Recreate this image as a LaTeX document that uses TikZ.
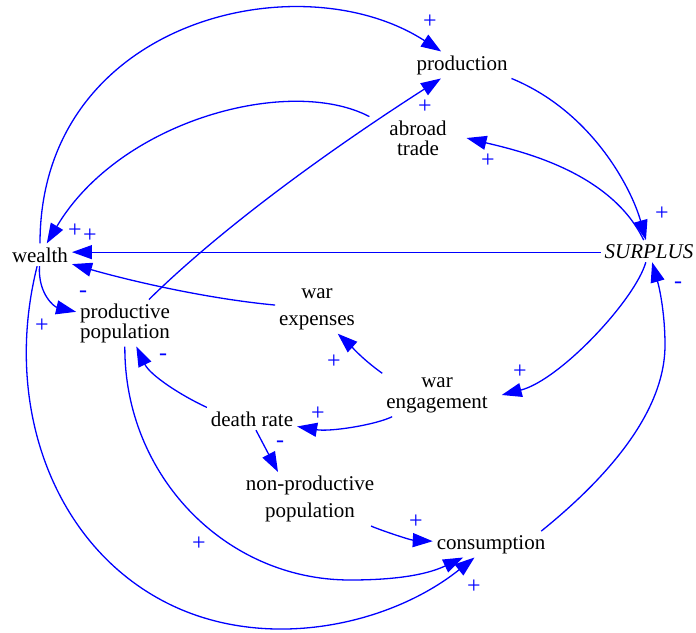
\documentclass[tikz,border=0pt]{standalone}
\usepackage{fontspec}
\setmainfont{Liberation Serif}
\usetikzlibrary{arrows.meta}
\begin{document}
\begin{tikzpicture}[x=1pt,y=-1pt,
  var/.style={inner sep=1pt,outer sep=3pt,font=\fontsize{21}{20}\selectfont},
  var2/.style={var,align=center},
  link/.style={draw=blue,line width=1.3pt,-{Triangle[length=20pt,width=14pt]}},
  sign/.style={text=blue,font=\fontsize{24}{24}\selectfont,inner sep=0pt}]
\useasboundingbox (0,0) rectangle (696,632);

% variables
\node[var,anchor=base] (production) at (462,70) {production};
\node[var2] (abroad) at (418,138) {abroad\\trade};
\node[var,anchor=base] (wealth) at (40,262) {wealth};
\node[var,anchor=base] (surplus) at (649,258) {\itshape SURPLUS};
\node[var2] (prodpop) at (125,323) {productive\\population};
\node[var2] (warexp) at (317,309) {war\\[7pt]expenses};
\node[var2] (wareng) at (437,395) {war\\[1pt]engagement};
\node[var,anchor=base] (death) at (252,426) {death rate};
\node[var2] (nonprod) at (310,499) {non-productive\\[7pt]population};
\node[var,anchor=base] (consumption) at (491,549) {consumption};

% causal links
\draw[link] (wealth) .. controls (40,20) and (300,-40) .. (production);
\draw[link] ([xshift=-16pt]abroad.north west) .. controls (290,75) and (120,120) .. (wealth);
\draw[link] (prodpop) .. controls (230,220) and (345,140) .. (production);
\draw[link] (production.south east) .. controls (593,112) and (632,190) .. (surplus);
\draw[link] (surplus) .. controls (610,170) and (515,150) .. ([xshift=16pt]abroad.east);
\draw[link] ([yshift=-1pt]surplus.west) -- ([yshift=-1pt]surplus.west -| wealth.east);
\draw[link] (warexp) .. controls (200,298) and (120,278) .. (wealth);
\draw[link] (wealth) .. controls (38,295) and (55,307) .. (prodpop);
\draw[link] (wealth) .. controls (2,406) and (54,546) .. (167,603)
  .. controls (266,653) and (390,625) .. (consumption);
\draw[link] (prodpop) .. controls (124,475) and (225,580) .. (350,580)
  .. controls (390,580) and (424,576) .. (consumption);
\draw[link] ([xshift=-8pt]consumption.north east) .. controls (602,482) and (665,415) .. (665,345)
  .. controls (665,315) and (660,290) .. (surplus);
\draw[link] (surplus) .. controls (635,300) and (560,380) .. ([xshift=10pt]wareng.east);
\draw[link] (wareng.north west) .. controls (362,359) and (348,343) .. (warexp.310);
\draw[link] (wareng) .. controls (375,425) and (330,432) .. (death);
\draw[link] (death.north west) .. controls (180,395) and (150,375) .. (prodpop);
\draw[link] ([xshift=4pt]death.south) -- ([xshift=-32pt]nonprod.north);
\draw[link] (nonprod) .. controls (380,530) and (410,540) .. (consumption);

% link polarities
\node[sign] (p1) at (430,22) {+};
\node[sign] (p2) at (425,107) {+};
\node[sign] (p3) at (488,161) {+};
\node[sign] (p4) at (662,214) {+};
\node[sign] (p5) at (678,285) {-};
\node[sign] (p6) at (75,231) {+};
\node[sign] (p7) at (90,236) {+};
\node[sign] (p8) at (83,294) {-};
\node[sign] (p9) at (42,326) {+};
\node[sign] (p10) at (163,357) {-};
\node[sign] (p11) at (334,362) {+};
\node[sign] (p12) at (520,372) {+};
\node[sign] (p13) at (318,414) {+};
\node[sign] (p14) at (280,444) {-};
\node[sign] (p15) at (416,522) {+};
\node[sign] (p16) at (199,544) {+};
\node[sign] (p17) at (474,587) {+};
\end{tikzpicture}
\end{document}
